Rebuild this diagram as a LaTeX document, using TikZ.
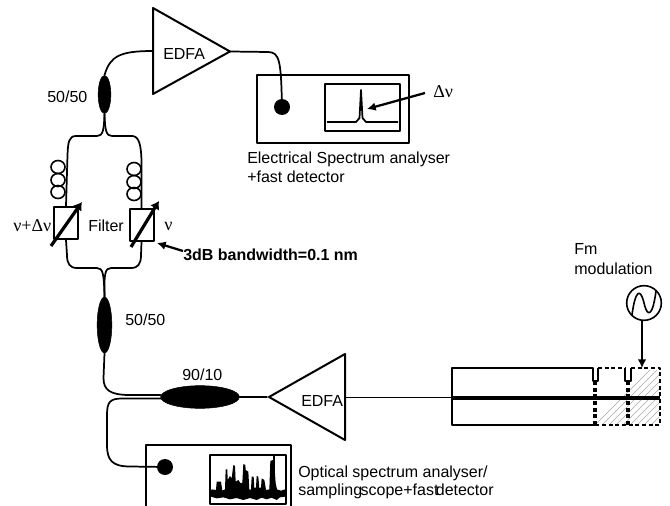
\documentclass[tikz,border=0pt]{standalone}
\usepackage{fontspec}
\setmainfont{Liberation Sans}
\newfontfamily\greekfont{Liberation Serif}
\usepackage{tikz}
\usetikzlibrary{arrows.meta,calc,positioning,shapes.geometric}
\tikzset{
  fibre/.style={line width=1.3pt,line cap=round,line join=round},
  coupler/.style={ellipse,fill=black,draw=black,inner sep=0pt},
  filterbox/.style={draw,line width=1.5pt,minimum width=18pt,minimum height=24pt,inner sep=0pt},
  tunearrow/.style={line width=2.4pt,-{Latex[length=6pt,width=8pt]}},
  pointer/.style={line width=1.7pt,-{Latex[length=6.5pt,width=6.5pt]}},
  label/.style={font=\fontsize{12}{14}\selectfont,inner sep=0pt,anchor=west},
  greeklabel/.style={label,font=\fontsize{13.5}{15}\selectfont\greekfont},
  detector/.style={circle,fill=black,minimum size=12pt,inner sep=0pt},
  coil/.style={line width=1.2pt}
}
\begin{document}
\begin{tikzpicture}[x=0.75pt,y=-0.75pt,line join=round]
    \useasboundingbox (0,0) rectangle (670,506);

    % first amplifier and electrical analyser
    \coordinate (ampAin) at (153,51);
    \coordinate (ampAtip) at (230,51.5);
    \draw[line width=1.5pt] (153,8) -- (ampAtip) -- (153,94) -- cycle;
    \node[label] (ampAtext) at (163,54) {EDFA};

    \node[coupler,minimum width=9.5pt,minimum height=28.5pt] (splitA) at (104.5,94.5) {};
    \node[label] (splitAtext) at (47,97) {50/50};

    \node[draw,line width=1.5pt,minimum width=114pt,minimum height=51pt,inner sep=0pt] (esa) at (333,109) {};
    \node[draw,line width=1.5pt,minimum width=56pt,minimum height=35pt,inner sep=0pt] (esascreen) at (362.5,107.5) {};
    \node[detector] (esadet) at (282,107) {};
    \draw[fibre] (ampAin) .. controls (120,51) and (110,56) .. (splitA.north);
    \draw[fibre] (ampAtip) -- (268,52) .. controls (280,52) and (281,62) .. (esadet.center);
    \draw[line width=1.3pt] (327,122) -- (356,122) -- (359.5,118) -- (361,90) -- (362.5,118) -- (366,122) -- (398,122);
    \draw[pointer] (425,93) -- (367,109);
    \node[greeklabel] (deltatext) at (433,92) {Δν};
    \node[label] (esatext) at (247,159) {Electrical Spectrum analyser};
    \node[label] (esatext2) at (247,177) {+fast detector};

    % filter arms
    \node[filterbox] (filterL) at (66,223) {};
    \node[filterbox] (filterR) at (141.5,225) {};
    \draw[fibre] (splitA.south) .. controls (104,130) and (103,136) .. (97,136) -- (76,136) .. controls (69,136) and (68,142) .. (67.5,155) -- (filterL.north);
    \draw[fibre] (splitA.south) .. controls (105,130) and (106,136) .. (112,136) -- (132,136) .. controls (139,136) and (141,145) .. (141.5,160) -- (filterR.north);
    \foreach \y in {167,180,192} {\draw[coil] (58,\y) ellipse (7 and 6.5);}
    \foreach \y in {169,182,194} {\draw[coil] (134,\y) ellipse (7 and 6.5);}
    \draw[tunearrow] (51,246) -- (82,202);
    \draw[tunearrow] (131,247) -- (159,201);
    \node[greeklabel] (nutextL) at (13,226) {ν+Δν};
    \node[label] (filtertext) at (88,226) {Filter};
    \node[greeklabel] (nutextR) at (164,226) {ν};
    \node[label,font=\fontsize{12}{14}\selectfont\bfseries] (bwtext) at (183,255) {3dB bandwidth=0.1 nm};
    \draw[pointer] (bwtext.west |- 0,251) -- (157,243);

    % second splitter and tap
    \node[coupler,minimum width=11pt,minimum height=42pt] (splitB) at (104.5,325) {};
    \node[label] (splitBtext) at (125,320) {50/50};
    \draw[fibre] (filterL.south) -- (67,255) .. controls (67,264) and (70,268) .. (77,268) -- (97,268) .. controls (103,268) and (104,274) .. (splitB.north);
    \draw[fibre] (filterR.south) -- (141,255) .. controls (141,264) and (138,268) .. (131,268) -- (111,268) .. controls (105,268) and (104,274) .. (splitB.north);

    \node[coupler,minimum width=59pt,minimum height=17pt] (tap) at (200,397) {};
    \node[label] (taptext) at (182,375) {90/10};
    \draw[fibre] (splitB.south) -- (103.5,378) .. controls (103.5,390) and (110,395) .. (130,395) -- (tap.west |- 0,395);
    \coordinate (tapout) at (162,398.5);

    % lower analyser
    \draw[line width=1.5pt] (146,506) -- (146,445) -- (291,445) -- (291,506);
    \draw[line width=1.5pt] (210,503.5) -- (210,455) -- (286,455) -- (286,503.5) -- cycle;
    \node[detector] (osadet) at (165,467) {};
    \draw[fibre] (tapout) -- (122,398.5) .. controls (110,398.5) and (107,402) .. (107,415) -- (107,445) .. controls (107,460) and (112,466.5) .. (130,466.5) -- (osadet.center);
    \begin{scope}[shift={(205,450)},x=0.25pt,y=-0.25pt]
      \fill (18,122) -- (20,118) -- (33,120) -- (35,95) -- (48,95) -- (52,122) -- (60,118) -- (62,58) -- (67,58)
        -- (68,90) -- (75,78) -- (80,85) -- (85,45) -- (90,48) -- (92,95) -- (100,90) -- (107,100) -- (112,98)
        -- (115,42) -- (121,45) -- (122,60) -- (130,65) -- (133,120) -- (138,118) -- (140,80) -- (146,80) -- (148,115)
        -- (153,112) -- (155,78) -- (160,80) -- (163,115) -- (168,112) -- (170,85) -- (178,90) -- (183,120) -- (193,118)
        -- (196,33) -- (204,30) -- (207,30) -- (212,100) -- (216,118) -- (228,122) -- (240,118) -- (240,140)
        -- (225,142) -- (215,150) -- (200,143) -- (185,148) -- (170,143) -- (155,150) -- (135,144) -- (115,150)
        -- (95,144) -- (75,148) -- (55,142) -- (35,145) -- (18,140) -- cycle;
      \draw[line width=1pt] (207,15) -- (207,70);
    \end{scope}
    \node[label] (osatext) at (298,473) {Optical spectrum analyser/};
    \node[label] (osatext2) at (298,491) {sampling\kern-1.2pt scope+fast\kern-2pt detector};

    % second amplifier
    \coordinate (ampBtip) at (269,397);
    \draw[line width=1.5pt] (ampBtip) -- (345,354) -- (345,440) -- cycle;
    \node[label] (ampBtext) at (301,401) {EDFA};
    \draw[fibre,shorten >=1.5pt] (tap.east) -- (ampBtip);

    % laser with its phase and grating sections
    \begin{scope}
      \clip (597,369) rectangle (659,424);
      \foreach \i in {0,...,16} {\draw[gray!70,line width=0.5pt] (590+\i*7,430) -- (650+\i*7,370);}
    \end{scope}
    \fill[white] (625,369) rectangle (631,381);
    \draw[line width=1.5pt] (590,368) -- (452,368) -- (452,425) -- (595,425);
    \draw[line width=1.1pt] (590,368) -- (593,368) -- (593,381) -- (598,381) -- (598,368);
    \draw[line width=1.1pt] (625,368) -- (625,381) -- (631,381) -- (631,368);
    \draw[line width=1pt,densely dashed] (598,368) -- (625,368) (631,368) -- (660,368) -- (660,425) -- (595,425);
    \draw[line width=3.2pt,densely dashed] (595,381) -- (595,425) (628,381) -- (628,425);
    \draw[line width=3.5pt] (452,398) -- (660,398);
    \draw[fibre] (345,397.5) -- (452,397.5);

    % modulation
    \node[circle,draw,line width=1.2pt,minimum size=26pt,inner sep=0pt] (fmsource) at (644,303) {};
    \draw[line width=1.2pt] (632,315) .. controls (635,292) and (640,286) .. (644,303) .. controls (648,320) and (653,314) .. (656,291);
    \coordinate (lasertop) at (642,368);
    \draw[pointer] (642,321) -- (lasertop);
    \node[label] (fmtext) at (574,249) {Fm};
    \node[label] (fmtext2) at (574,269) {modulation};
\end{tikzpicture}
\end{document}
